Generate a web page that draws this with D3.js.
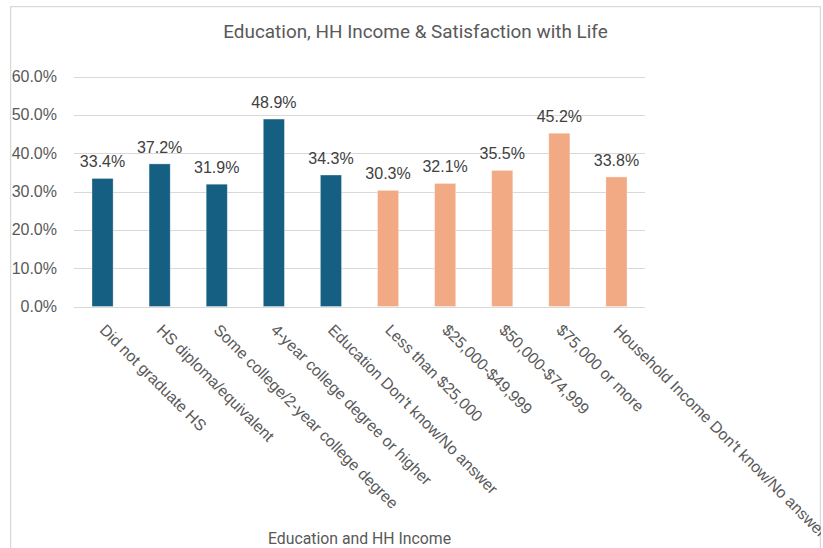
<!DOCTYPE html>
<html lang="en">
<head>
<meta charset="UTF-8">
<title>Education, HH Income & Satisfaction with Life</title>
<script src="https://cdn.jsdelivr.net/npm/d3@7"></script>
<style>
  body { margin: 0; background: #fff; }
  #chart text { fill: #595959; }
</style>
</head>
<body>
<div id="chart"></div>
<script>
// categories and values (percent)
var categories = [
  "Did not graduate HS",
  "HS diploma/equivalent",
  "Some college/2-year college degree",
  "4-year college degree or higher",
  "Education Don't know/No answer",
  "Less than $25,000",
  "$25,000-$49,999",
  "$50,000-$74,999",
  "$75,000 or more",
  "Household Income Don't know/No answer"
];
var values = [33.4, 37.2, 31.9, 48.9, 34.3, 30.3, 32.1, 35.5, 45.2, 33.8];
var groups = ["edu", "edu", "edu", "edu", "edu", "inc", "inc", "inc", "inc", "inc"];
var yTicks = [0, 10, 20, 30, 40, 50, 60];

var colors = { edu: "#156082", inc: "#F2AA84" };

var W = 823, H = 548;
var plot = { left: 74, right: 645, top: 76.5, bottom: 306.5 };

var svg = d3.select("#chart").append("svg")
  .attr("width", W)
  .attr("height", H);

// chart area border, also used to clip the long labels
svg.append("clipPath").attr("id", "area")
  .append("rect").attr("x", 10).attr("y", 6).attr("width", 811).attr("height", 560);

var g = svg.append("g").attr("clip-path", "url(#area)");

g.append("rect")
  .attr("x", 10.5).attr("y", 6.5)
  .attr("width", 810).attr("height", 560)
  .attr("fill", "#fff")
  .attr("stroke", "#d9d9d9")
  .attr("stroke-width", 1.5);

var x = d3.scaleBand()
  .domain(categories)
  .range([plot.left, plot.right])
  .paddingInner(0.63)
  .paddingOuter(0.315);

var y = d3.scaleLinear()
  .domain([0, 60])
  .range([plot.bottom, plot.top]);

// gridlines
g.selectAll("line.grid")
  .data(yTicks)
  .enter().append("line")
  .attr("class", "grid")
  .attr("x1", plot.left).attr("x2", plot.right)
  .attr("y1", function(d) { return Math.round(y(d)) + 0.5; })
  .attr("y2", function(d) { return Math.round(y(d)) + 0.5; })
  .attr("stroke", "#d9d9d9")
  .attr("stroke-width", 1.2);

// y axis labels
var yAxis = g.append("g")
  .attr("transform", "translate(" + (plot.left - 17) + ",0)")
  .call(d3.axisLeft(y).tickValues(yTicks).tickSize(0).tickPadding(0)
    .tickFormat(function(d) { return d.toFixed(1) + "%"; }));
yAxis.select(".domain").remove();
yAxis.selectAll("text")
  .style("font-family", "'Liberation Sans Narrow', 'Liberation Sans', Arial, sans-serif")
  .style("font-size", "16px")
  .attr("fill", "#595959");

// bars
g.selectAll("rect.bar")
  .data(values)
  .enter().append("rect")
  .attr("class", "bar")
  .attr("x", function(d, i) { return x(categories[i]); })
  .attr("y", function(d) { return y(d); })
  .attr("width", x.bandwidth())
  .attr("height", function(d) { return y(0) - y(d); })
  .attr("fill", function(d, i) { return colors[groups[i]]; })
  .attr("stroke", "#ffffff")
  .attr("stroke-opacity", 0.4)
  .attr("stroke-width", 0.8);

// value labels
g.selectAll("text.val")
  .data(values)
  .enter().append("text")
  .attr("class", "val")
  .attr("x", function(d, i) { return x(categories[i]) + x.bandwidth() / 2; })
  .attr("y", function(d) { return y(d) - 11; })
  .attr("text-anchor", "middle")
  .style("font-family", "'Liberation Sans Narrow', 'Liberation Sans', Arial, sans-serif")
  .style("font-size", "16px")
  .style("fill", "#404040")
  .text(function(d) { return d.toFixed(1) + "%"; });

// x axis labels, rotated 45 degrees
g.selectAll("text.cat")
  .data(categories)
  .enter().append("text")
  .attr("class", "cat")
  .attr("transform", function(d) {
    return "translate(" + (x(d) + x.bandwidth() / 2) + ",327) rotate(45)";
  })
  .attr("dy", "0.35em")
  .attr("text-anchor", "start")
  .style("font-family", "'Liberation Sans', Arial, sans-serif")
  .style("font-size", "15.8px")
  .text(function(d) { return d; });

// title
g.append("text")
  .attr("x", 415.5).attr("y", 37.5)
  .attr("text-anchor", "middle")
  .style("font-family", "Roboto, sans-serif")
  .style("font-size", "18.9px")
  .text("Education, HH Income & Satisfaction with Life");

// axis title
g.append("text")
  .attr("x", (plot.left + plot.right) / 2).attr("y", 544)
  .attr("text-anchor", "middle")
  .style("font-family", "Roboto, sans-serif")
  .style("font-size", "15.8px")
  .text("Education and HH Income");
</script>
</body>
</html>
